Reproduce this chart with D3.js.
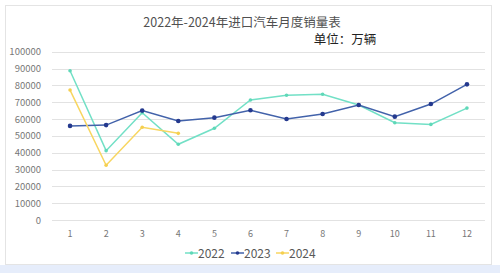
<!DOCTYPE html>
<html>
<head>
<meta charset="utf-8">
<script src="https://cdn.jsdelivr.net/npm/d3@7"></script>
<style>
  body { margin: 0; background: #fff; }
  svg { display: block; font-family: "Noto Sans CJK SC", "Noto Sans", sans-serif; }
</style>
</head>
<body>
<div id="chart"></div>
<script>
// 月份与各年销量
const months = [1, 2, 3, 4, 5, 6, 7, 8, 9, 10, 11, 12];
const sales2022 = [88700, 41200, 63700, 45000, 54500, 71300, 74100, 74700, 68300, 57800, 56800, 66500];
const sales2023 = [55900, 56400, 65000, 58800, 60800, 65200, 60000, 63000, 68300, 61400, 68900, 80600];
const sales2024 = [77200, 32500, 55100, 51500];
const yTicks = [0, 10000, 20000, 30000, 40000, 50000, 60000, 70000, 80000, 90000, 100000];
const seriesNames = ["2022", "2023", "2024"];
const seriesColors = ["#72e0c6", "#4262aa", "#f8d660"];
const markerColors = ["#5fd8b8", "#24398e", "#f5cf4f"];

const width = 500, height = 273;
const svg = d3.select("#chart").append("svg")
    .attr("width", width)
    .attr("height", height);

// 底部浅蓝背景
svg.append("rect")
    .attr("x", 0).attr("y", 265).attr("width", width).attr("height", 8)
    .attr("fill", "#e6edfb");

// 外框
svg.append("rect")
    .attr("x", 5.5).attr("y", 5.5).attr("width", 486).attr("height", 259)
    .attr("fill", "#fff")
    .attr("stroke", "#e4e4e4");

svg.append("text")
    .attr("x", 242).attr("y", 27)
    .attr("text-anchor", "middle")
    .attr("font-size", "12.5px")
    .attr("fill", "#505050")
    .text("2022年-2024年进口汽车月度销量表");

svg.append("text")
    .attr("x", 345).attr("y", 44)
    .attr("text-anchor", "middle")
    .attr("font-size", "12.5px")
    .attr("fill", "#222")
    .text("单位：万辆");

const x = d3.scaleBand()
    .domain(months)
    .range([52, 485]);

const y = d3.scaleLinear()
    .domain([0, 100000])
    .range([220, 51.7]);

// 网格线
svg.append("g")
    .selectAll("line")
    .data(yTicks)
    .enter().append("line")
    .attr("x1", 52).attr("x2", 485)
    .attr("y1", d => Math.round(y(d)) + 0.5)
    .attr("y2", d => Math.round(y(d)) + 0.5)
    .attr("stroke", "#e2e2e2");

// y 轴标签
svg.append("g")
    .selectAll("text")
    .data(yTicks)
    .enter().append("text")
    .attr("x", 41)
    .attr("y", d => y(d) + 3.5)
    .attr("text-anchor", "end")
    .attr("font-size", "9.5px")
    .attr("fill", "#777")
    .text(d => d);

// x 轴标签
svg.append("g")
    .selectAll("text")
    .data(months)
    .enter().append("text")
    .attr("x", d => x(d) + x.bandwidth() / 2)
    .attr("y", 237)
    .attr("text-anchor", "middle")
    .attr("font-size", "9px")
    .attr("fill", "#777")
    .text(d => d);

const allSeries = [sales2022, sales2023, sales2024];
const line = d3.line()
    .x((d, i) => x(months[i]) + x.bandwidth() / 2)
    .y(d => y(d));

allSeries.forEach(function(values, k) {
    svg.append("path")
        .datum(values)
        .attr("fill", "none")
        .attr("stroke", seriesColors[k])
        .attr("stroke-width", 1.5)
        .attr("d", line);

    svg.append("g")
        .selectAll("circle")
        .data(values)
        .enter().append("circle")
        .attr("cx", (d, i) => x(months[i]) + x.bandwidth() / 2)
        .attr("cy", d => y(d))
        .attr("r", k === 1 ? 2.3 : 1.8)
        .attr("fill", markerColors[k]);
});

// 图例
const legendX = [185, 231, 276];
const legend = svg.append("g");
seriesNames.forEach(function(name, k) {
    const lx = legendX[k];
    legend.append("line")
        .attr("x1", lx).attr("x2", lx + 13)
        .attr("y1", 253).attr("y2", 253)
        .attr("stroke", seriesColors[k])
        .attr("stroke-width", 1.5);
    legend.append("circle")
        .attr("cx", lx + 6.5).attr("cy", 253)
        .attr("r", 1.8)
        .attr("fill", markerColors[k]);
    legend.append("text")
        .attr("x", lx + 13)
        .attr("y", 257.5)
        .attr("font-size", "12px")
        .attr("fill", "#595959")
        .text(name);
});
</script>
</body>
</html>
